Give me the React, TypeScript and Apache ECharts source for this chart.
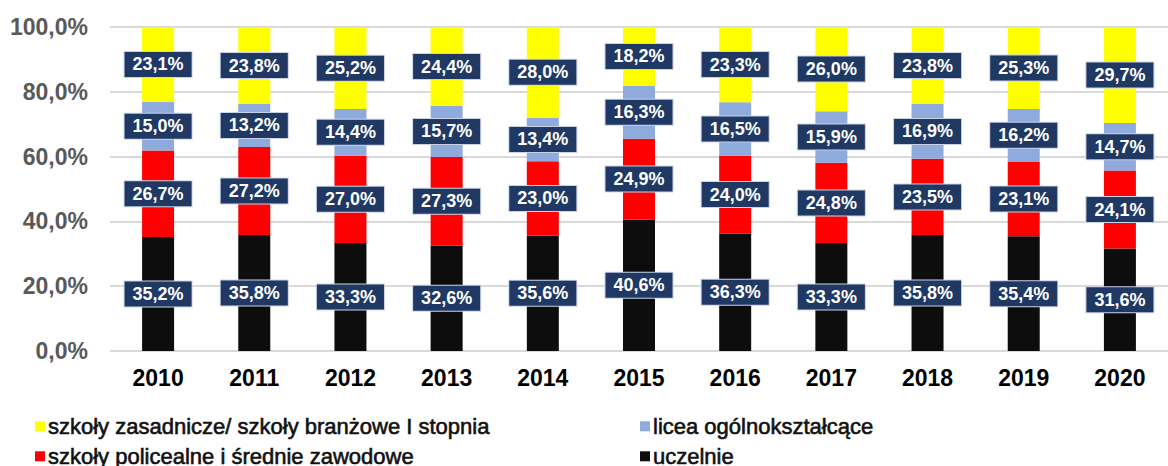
import React, { useEffect, useRef } from "react";
import * as echarts from "echarts";

const years = ["2010", "2011", "2012", "2013", "2014", "2015", "2016", "2017", "2018", "2019", "2020"];
const uczelnie = [35.2, 35.8, 33.3, 32.6, 35.6, 40.6, 36.3, 33.3, 35.8, 35.4, 31.6];
const policealne = [26.7, 27.2, 27.0, 27.3, 23.0, 24.9, 24.0, 24.8, 23.5, 23.1, 24.1];
const licea = [15.0, 13.2, 14.4, 15.7, 13.4, 16.3, 16.5, 15.9, 16.9, 16.2, 14.7];
const zasadnicze = [23.1, 23.8, 25.2, 24.4, 28.0, 18.2, 23.3, 26.0, 23.8, 25.3, 29.7];

const names = {
  zas: "szkoły zasadnicze/ szkoły branżowe I stopnia",
  lic: "licea ogólnokształcące",
  pol: "szkoły policealne i średnie zawodowe",
  ucz: "uczelnie",
};

const fmt = (v: number) => v.toFixed(1).replace(".", ",") + "%";

export default function App() {
  const ref = useRef<HTMLDivElement>(null);
  useEffect(() => {
    if (!ref.current) return;
    document.body.style.margin = "0";
    document.body.style.overflow = "hidden";
    const chart = echarts.init(ref.current, null, { renderer: "svg" });
    const label = {
      show: true,
      position: "inside",
      formatter: (p: any) => fmt(p.value),
      color: "#ffffff",
      fontFamily: "Arial, 'Liberation Sans', sans-serif",
      fontWeight: "bold",
      fontSize: 18,
      backgroundColor: "#1f3864",
      borderColor: "#c9d3e6",
      borderWidth: 1,
      padding: [4, 8, 3, 8],
    };
    const mk = (name: string, data: number[], color: string) => ({
      name,
      type: "bar",
      stack: "total",
      data,
      barWidth: 32,
      itemStyle: { color },
      label,
    });
    const legendText = {
      fontFamily: "Arial, 'Liberation Sans', sans-serif",
      fontSize: 22,
      color: "#111111",
      textBorderColor: "#111111",
      textBorderWidth: 0.6,
      lineHeight: 22,
      padding: [0, 0, 0, -2],
    };
    const lg = (name: string, left: number, top: number) => ({
      orient: "horizontal",
      left,
      top,
      itemWidth: 10,
      itemHeight: 10,
      icon: "rect",
      data: [name],
      textStyle: legendText,
      padding: 0,
    });
    chart.setOption({
      animation: false,
      grid: { left: 110, top: 27, width: 1069, height: 324 },
      xAxis: {
        type: "category",
        data: years,
        axisLine: { show: false },
        axisTick: { show: false },
        axisLabel: {
          fontFamily: "Arial, 'Liberation Sans', sans-serif",
          fontWeight: "bold",
          fontSize: 23,
          color: "#000000",
          margin: 15,
        },
      },
      yAxis: {
        type: "value",
        min: 0,
        max: 100,
        interval: 20,
        axisLabel: {
          formatter: (v: number) => fmt(v),
          fontFamily: "Arial, 'Liberation Sans', sans-serif",
          fontWeight: "bold",
          fontSize: 23,
          color: "#595959",
          margin: 22,
        },
        splitLine: { lineStyle: { color: "#d9d9d9", width: 2 } },
      },
      legend: [
        lg(names.zas, 35, 415),
        lg(names.pol, 35, 445),
        lg(names.lic, 640, 415),
        lg(names.ucz, 640, 445),
      ],
      series: [
        mk(names.ucz, uczelnie, "#0d0d0d"),
        mk(names.pol, policealne, "#ff0000"),
        mk(names.lic, licea, "#8faadc"),
        mk(names.zas, zasadnicze, "#ffff00"),
      ],
    });
    return () => chart.dispose();
  }, []);
  return (
    <div style={{ width: 1168, height: 466, overflow: "hidden" }}>
      <div ref={ref} style={{ width: 1168, height: 466 }} />
    </div>
  );
}
